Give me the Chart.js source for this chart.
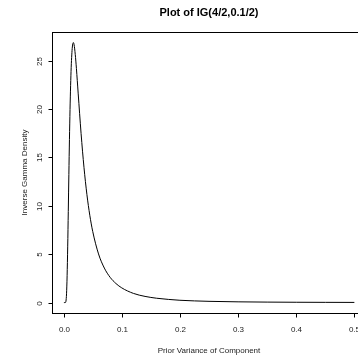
<!DOCTYPE html>
<html>
<head>
<meta charset="utf-8">
<script src="https://cdn.jsdelivr.net/npm/chart.js@4/dist/chart.umd.min.js"></script>
<style>
  html, body { margin: 0; padding: 0; background: #fff; overflow: hidden; }
  #wrap { width: 358px; height: 358px; overflow: hidden; }
</style>
</head>
<body>
<div id="wrap"><canvas id="grafica" width="380" height="358"></canvas></div>
<script>
// densidad
let varianza = [0.0005, 0.002, 0.003, 0.004, 0.005, 0.006, 0.007, 0.008, 0.009, 0.010,
    0.011, 0.012, 0.013, 0.014, 0.015, 0.0167, 0.018, 0.020, 0.022, 0.025,
    0.030, 0.035, 0.040, 0.045, 0.050, 0.060, 0.070, 0.080, 0.090, 0.100,
    0.120, 0.140, 0.160, 0.180, 0.200, 0.250, 0.300, 0.350, 0.400, 0.450, 0.500];
let densidad = [0, 0, 0.005, 0.15, 0.91, 2.78, 5.76, 9.42, 13.24, 16.84,
    19.95, 22.42, 24.32, 25.6, 26.42, 26.88, 26.66, 25.65, 24.19, 21.65,
    17.49, 13.98, 11.19, 9.03, 7.36, 5.03, 3.57, 2.61, 1.97, 1.52,
    0.95, 0.64, 0.45, 0.33, 0.24, 0.13, 0.078, 0.05, 0.035, 0.025, 0.018];

let xTicks = [0, 0.1, 0.2, 0.3, 0.4, 0.5];
let xLabels = ['0.0', '0.1', '0.2', '0.3', '0.4', '0.5'];
let yTicks = [0, 5, 10, 15, 20, 25];
let yLabels = ['0', '5', '10', '15', '20', '25'];

let titulo = 'Plot of IG(4/2,0.1/2)';
let tituloX = 'Prior Variance of Component';
let tituloY = 'Inverse Gamma Density';

let fuente = '"Liberation Sans", Arial, Helvetica, sans-serif';

let puntos = [];
for (let i = 0; i < varianza.length; i++) {
    puntos.push({ x: varianza[i], y: densidad[i] });
}

// ejes estilo R
let ejesR = {
    id: 'ejesR',
    afterDraw(chart) {
        let ctx = chart.ctx;
        let area = chart.chartArea;
        let sx = chart.scales.x;
        let sy = chart.scales.y;
        ctx.save();
        ctx.strokeStyle = '#000';
        ctx.lineWidth = 1;
        ctx.strokeRect(Math.round(area.left) + 0.5, Math.round(area.top) + 0.5,
            Math.round(area.right - area.left), Math.round(area.bottom - area.top));

        ctx.fillStyle = '#222';
        ctx.font = '8px ' + fuente;
        ctx.textAlign = 'center';
        ctx.textBaseline = 'middle';

        let yb = Math.round(area.bottom) + 0.5;
        for (let i = 0; i < xTicks.length; i++) {
            let px = Math.round(sx.getPixelForValue(xTicks[i])) + 0.5;
            ctx.beginPath();
            ctx.moveTo(px, yb);
            ctx.lineTo(px, yb + 4);
            ctx.stroke();
            ctx.fillText(xLabels[i], px, 330);
        }

        let xl = Math.round(area.left) + 0.5;
        for (let i = 0; i < yTicks.length; i++) {
            let py = Math.round(sy.getPixelForValue(yTicks[i])) + 0.5;
            ctx.beginPath();
            ctx.moveTo(xl, py);
            ctx.lineTo(xl - 4, py);
            ctx.stroke();
            ctx.save();
            ctx.translate(40, py);
            ctx.rotate(-Math.PI / 2);
            ctx.fillText(yLabels[i], 0, 0);
            ctx.restore();
        }

        let cx = (area.left + area.right) / 2;
        let cy = (area.top + area.bottom) / 2;
        ctx.fillText(tituloX, cx, 351);
        ctx.save();
        ctx.translate(25, cy);
        ctx.rotate(-Math.PI / 2);
        ctx.fillText(tituloY, 0, 0);
        ctx.restore();

        ctx.fillStyle = '#000';
        ctx.font = 'bold 11px ' + fuente;
        ctx.fillText(titulo, cx, 13);
        ctx.restore();
    }
};

let config = {
    type: 'line',
    data: {
        datasets: [{
            data: puntos,
            borderColor: '#000',
            borderWidth: 1,
            pointRadius: 0,
            fill: false,
            cubicInterpolationMode: 'monotone'
        }]
    },
    options: {
        responsive: false,
        animation: false,
        devicePixelRatio: 1,
        layout: { padding: { left: 52, top: 32, right: 14, bottom: 45 } },
        plugins: { legend: { display: false }, tooltip: { enabled: false } },
        scales: {
            x: { type: 'linear', min: -0.02, max: 0.52, display: false },
            y: { type: 'linear', min: -1.076, max: 27.97, display: false }
        }
    },
    plugins: [ejesR]
};

let myChart = new Chart(document.getElementById('grafica'), config);
</script>
</body>
</html>
